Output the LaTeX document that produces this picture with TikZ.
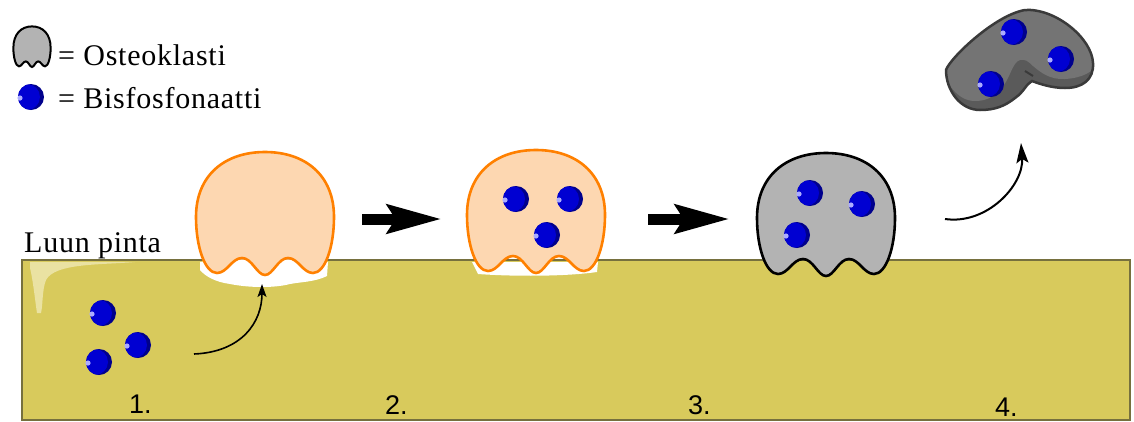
\documentclass[tikz,border=0pt]{standalone}
\usepackage{fontspec}
\setmainfont{Liberation Serif}[LetterSpace=2.5]
\newfontfamily\stepfont{Liberation Sans}
\usepackage{xcolor}
\usetikzlibrary{arrows.meta}

\definecolor{bonefill}{RGB}{216, 202, 92}
\definecolor{bonepale}{RGB}{234, 226, 162}
\definecolor{boneedge}{RGB}{118, 112, 62}
\definecolor{cellpeach}{RGB}{253, 215, 177}
\definecolor{cellorange}{RGB}{255, 128, 0}
\definecolor{cellgray}{RGB}{179, 179, 179}
\definecolor{deadgray}{RGB}{116, 116, 116}
\definecolor{deadshade}{RGB}{90, 90, 90}
\definecolor{deadedge}{RGB}{58, 58, 58}
\definecolor{drugblue}{RGB}{0, 0, 210}
\definecolor{drugdark}{RGB}{0, 0, 140}
\definecolor{drugspot}{RGB}{172, 172, 255}

% osteoclast outline, origin at the middle of the ruffled border
\newcommand{\ghostoutline}{(0,0) .. controls (8,0) and (13,-17) .. (23,-17)
  .. controls (33,-17) and (38,-2) .. (48,-2)
  .. controls (60,-2) and (69,-28) .. (69,-58)
  .. controls (69,-100) and (40,-123) .. (0,-123)
  .. controls (-40,-123) and (-69,-100) .. (-69,-58)
  .. controls (-69,-28) and (-60,-2) .. (-48,-2)
  .. controls (-38,-2) and (-33,-17) .. (-23,-17)
  .. controls (-13,-17) and (-8,0) .. (0,0) -- cycle}

% detached, shrunken osteoclast: silhouette and its lit upper face
\newcommand{\deadoutline}{(946,70) .. controls (950,58) and (995,15) .. (1025,10)
  .. controls (1055,8) and (1092,38) .. (1093,63)
  .. controls (1094,80) and (1082,88) .. (1065,88)
  .. controls (1052,88) and (1040,84) .. (1032,81)
  .. controls (1026,84) and (1024,92) .. (1015,98)
  .. controls (1005,106) and (995,110) .. (980,110)
  .. controls (960,110) and (946,90) .. (946,70) -- cycle}
\newcommand{\deadface}{(938,66) -- (938,-10) -- (1110,-10) -- (1110,60)
  -- (1098,62) .. controls (1094,72) and (1082,78) .. (1065,79)
  .. controls (1050,80) and (1040,72) .. (1033,66)
  .. controls (1028,61) and (1025,59) .. (1020,60)
  .. controls (1012,62) and (1010,80) .. (1000,90)
  .. controls (992,98) and (985,101) .. (975,101)
  .. controls (958,101) and (948,85) .. (938,66) -- cycle}

\tikzset{
  drug/.pic={
    \fill[drugdark] (0,0) circle[radius=13pt];
    \begin{scope}
      \clip (0,0) circle[radius=13pt];
      \fill[drugblue] (-4,0) circle[radius=13pt];
    \end{scope}
    \fill[drugspot] (-11,1) circle[radius=2.6pt];
  }
}

\begin{document}
\begin{tikzpicture}[x=1pt, y=-1pt,
    every node/.style={inner sep=0pt, font=\fontsize{30}{36}\selectfont},
    osteo/.style={draw=cellorange, fill=cellpeach, line width=2.6pt},
    inactive/.style={draw=black, fill=cellgray, line width=2.6pt},
    cellslot/.style={minimum width=138pt, minimum height=120pt},
    steplabel/.style={font=\stepfont\fontsize{27}{30}\selectfont, anchor=base west},
    bigarrow/.style={line width=11pt, -{Stealth[length=54pt, width=28pt, inset=8pt]}},
    thinarrow/.style={line width=1.6pt, -{Stealth[length=13pt, width=9pt, inset=3pt]}}]
    \useasboundingbox (0,0) rectangle (1134,421);
    \fill[white] (0,0) rectangle (1134,421);

    % Bone
    \fill[bonefill] (22,260) rectangle (1130,420);
    \fill[bonepale] (30,262) -- (135,262) .. controls (100,265) and (55,263) .. (46,280)
      .. controls (42,290) and (43,305) .. (41,313) -- (37,313)
      .. controls (35,300) and (33,280) .. (30,268) -- cycle;
    \draw[boneedge, line width=1.2pt] (22,260) rectangle (1130,420);
    \draw[boneedge, line width=2pt] (22,260) -- (1130,260);
    \node[anchor=base west] (surface) at (24,252) {Luun pinta};

    % Resorption pits
    \fill[white] (200,262) .. controls (230,258) and (300,258) .. (328,262) -- (327,276)
      .. controls (315,282) and (300,282) .. (290,284)
      .. controls (275,288) and (250,288) .. (230,284)
      .. controls (215,282) and (205,276) .. (200,270) -- cycle;
    \fill[white] (472,262) -- (598,262) -- (597,272)
      .. controls (570,276) and (520,277) .. (478,274) -- cycle;

    % Bisphosphonate in bone
    \foreach \x/\y in {103/313, 138/345, 99/362}
        \pic at (\x,\y) {drug};

    % Osteoclasts
    \path[osteo, shift={(265,275)}] \ghostoutline;
    \path[osteo, shift={(536,273)}] \ghostoutline;
    \path[inactive, shift={(826,276)}] \ghostoutline;
    \node[cellslot] (cell1) at (265,219) {};
    \node[cellslot] (cell2) at (536,219) {};
    \node[cellslot] (cell3) at (826,219) {};
    \foreach \x/\y in {516/199, 570/199, 547/235, 810/193, 862/204, 797/235}
        \pic at (\x,\y) {drug};

    % Detached osteoclast
    \begin{scope}
        \clip \deadoutline;
        \fill[deadshade] \deadoutline;
        \fill[deadgray] \deadface;
    \end{scope}
    \draw[deadedge, line width=2.5pt] \deadoutline;
    \draw[deadedge, line width=2pt] (1025,71) -- (1033,76);
    \node[minimum width=150pt, minimum height=104pt] (cell4) at (1020,60) {};
    \foreach \x/\y in {1014/32, 1061/59, 991/84}
        \pic at (\x,\y) {drug};

    % Arrows
    \coordinate (uptake) at (194,354);
    \coordinate (pit) at (262,284);
    \coordinate (release) at (945,219);
    \coordinate (risen) at (1021,143);
    \draw[thinarrow] (uptake) .. controls +(48,-2) and +(0,38) .. (pit);
    \draw[bigarrow, shorten <=28pt, shorten >=25pt] (cell1.east) -- (cell2.west);
    \draw[bigarrow, shorten <=43pt, shorten >=27pt] (cell2.east) -- (cell3.west);
    \draw[line width=2pt, -{Stealth[length=20pt, width=12pt, inset=4pt]}]
        (release) .. controls +(42,6) and +(3,42) .. (risen);

    % Steps
    \foreach \n/\x/\y in {1/129/413, 2/385/414, 3/688/414, 4/995/416}
        \node[steplabel] (step\n) at (\x,\y) {\n.};

    % Legend
    \path[inactive, line width=2pt, shift={(32,67)}, xscale=0.27, yscale=0.33] \ghostoutline;
    \pic at (31,97) {drug};
    \node[anchor=base west] (keycell) at (58,65) {= Osteoklasti};
    \node[anchor=base west] (keydrug) at (58,108) {= Bisfosfonaatti};
\end{tikzpicture}
\end{document}
